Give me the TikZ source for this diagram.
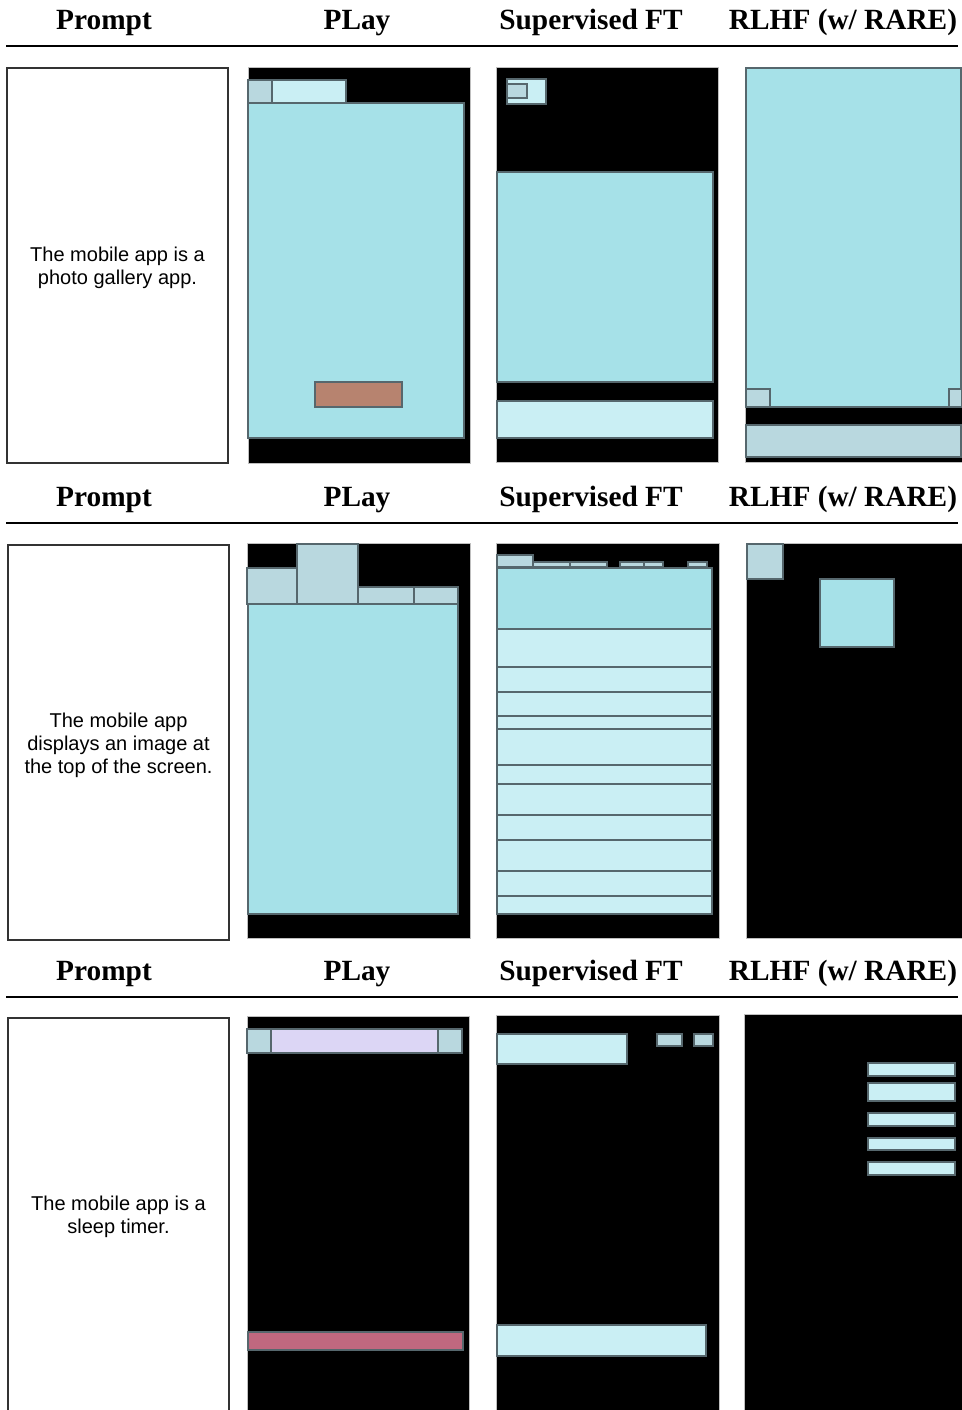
\documentclass[tikz,border=0pt]{standalone}
\usepackage{fontspec}
\setmainfont{Liberation Serif}
\newfontfamily\promptfont{Liberation Sans}
\definecolor{cyanA}{HTML}{A6E1E8}
\definecolor{cyanL}{HTML}{CAEFF4}
\definecolor{grayB}{HTML}{B9D8DF}
\definecolor{lavA}{HTML}{DCD6F5}
\definecolor{brownA}{HTML}{B7836F}
\definecolor{pinkA}{HTML}{C0687F}
\definecolor{edgeA}{HTML}{56676D}
\tikzset{
  x=0.75pt, y=-0.75pt,
  hdr/.style={font=\fontsize{22}{26}\selectfont\bfseries, anchor=base, inner sep=0pt},
  ptext/.style={font=\promptfont\fontsize{15}{17.25}\selectfont, align=center, inner sep=0pt},
  pbox/.style={draw=black!80, line width=0.8pt, fill=white},
  screen/.style={fill=black, draw=black!25, line width=0.4pt},
  el/.style={draw=edgeA, line width=0.9pt},
  cy/.style={el, fill=cyanA},
  lc/.style={el, fill=cyanL},
  gb/.style={el, fill=grayB},
  lav/.style={el, fill=lavA},
  brn/.style={el, fill=brownA},
  pnk/.style={el, fill=pinkA},
  rule/.style={draw=black, line width=1pt}
}
\begin{document}
\begin{tikzpicture}
\useasboundingbox (0,0) rectangle (962,1410);
\clip (0,0) rectangle (962,1410);

% ---------- headers ----------
\foreach \b/\l [count=\i] in {29/46, 506/523, 980/997} {
  \node[hdr] (hP\i) at (104,\b) {Prompt};
  \node[hdr] (hL\i) at (357,\b) {PLay};
  \node[hdr] (hS\i) at (591,\b) {Supervised FT};
  \node[hdr] (hR\i) at (843,\b) {RLHF (w/ RARE)};
  \coordinate (rl\i) at (6,\l);
  \coordinate (rr\i) at (958,\l);
  \draw[rule] (rl\i) -- (rr\i);
}

% ---------- row 1 ----------
\draw[pbox] (7,68) rectangle (228,463);
\node[ptext] (p1) at (117.5,268) {The mobile app is a\\photo gallery app.};
% PLay
\draw[screen] (248,67) rectangle (470,463);
\draw[gb] (248,80) rectangle (272,103);
\draw[lc] (272,80) rectangle (346,103);
\draw[cy] (248,103) rectangle (464,438);
\draw[brn] (315,382) rectangle (402,407);
% SFT
\draw[screen] (496,67) rectangle (718,462);
\draw[lc] (507,79) rectangle (546,104);
\draw[gb] (507,84) rectangle (527,98);
\draw[cy] (497,172) rectangle (713,382);
\draw[lc] (497,401) rectangle (713,438);
% RLHF
\draw[screen] (745,67) rectangle (962,462);
\draw[cy] (746,68) rectangle (961,407);
\draw[gb] (746,389) rectangle (770,407);
\draw[gb] (949,389) rectangle (962,407);
\draw[gb] (746,425) rectangle (961,457);

% ---------- row 2 ----------
\draw[pbox] (8,545) rectangle (229,940);
\node[ptext] (p2) at (118.5,745) {The mobile app\\displays an image at\\the top of the screen.};
% PLay
\draw[screen] (247,543) rectangle (470,938);
\draw[gb] (247,568) rectangle (297,604);
\draw[gb] (297,544) rectangle (358,604);
\draw[gb] (358,587) rectangle (414,604);
\draw[gb] (414,587) rectangle (458,604);
\draw[cy] (248,604) rectangle (458,914);
% SFT
\draw[screen] (496,543) rectangle (719,938);
\draw[gb] (497,555) rectangle (533,567);
\draw[gb] (533,562) rectangle (570,567);
\draw[gb] (570,562) rectangle (607,567);
\draw[gb] (620,562) rectangle (644,567);
\draw[gb] (644,562) rectangle (663,567);
\draw[gb] (688,562) rectangle (707,567);
\draw[cy] (497,568) rectangle (712,629);
\foreach \a/\b in {629/667, 667/692, 692/716, 716/729, 729/765, 765/784, 784/815, 815/840, 840/871, 871/896, 896/914}
  \draw[lc] (497,\a) rectangle (712,\b);
% RLHF
\draw[screen] (746,543) rectangle (962,938);
\draw[gb] (747,544) rectangle (783,579);
\draw[cy] (820,579) rectangle (894,647);

% ---------- row 3 ----------
\draw[pbox] (8,1018) rectangle (229,1414);
\node[ptext] (p3) at (118.5,1217) {The mobile app is a\\sleep timer.};
% PLay
\draw[screen] (247,1016) rectangle (469,1414);
\draw[gb] (247,1029) rectangle (271,1053);
\draw[lav] (271,1029) rectangle (438,1053);
\draw[gb] (438,1029) rectangle (462,1053);
\draw[pnk] (248,1332) rectangle (463,1350);
% SFT
\draw[screen] (496,1015) rectangle (719,1414);
\draw[lc] (497,1034) rectangle (627,1064);
\draw[gb] (657,1034) rectangle (682,1046);
\draw[gb] (694,1034) rectangle (713,1046);
\draw[lc] (497,1325) rectangle (706,1356);
% RLHF
\draw[screen] (744,1014) rectangle (962,1414);
\foreach \a/\b in {1063/1076, 1083/1101, 1113/1126, 1138/1150, 1162/1175}
  \draw[lc] (868,\a) rectangle (955,\b);
\end{tikzpicture}
\end{document}
